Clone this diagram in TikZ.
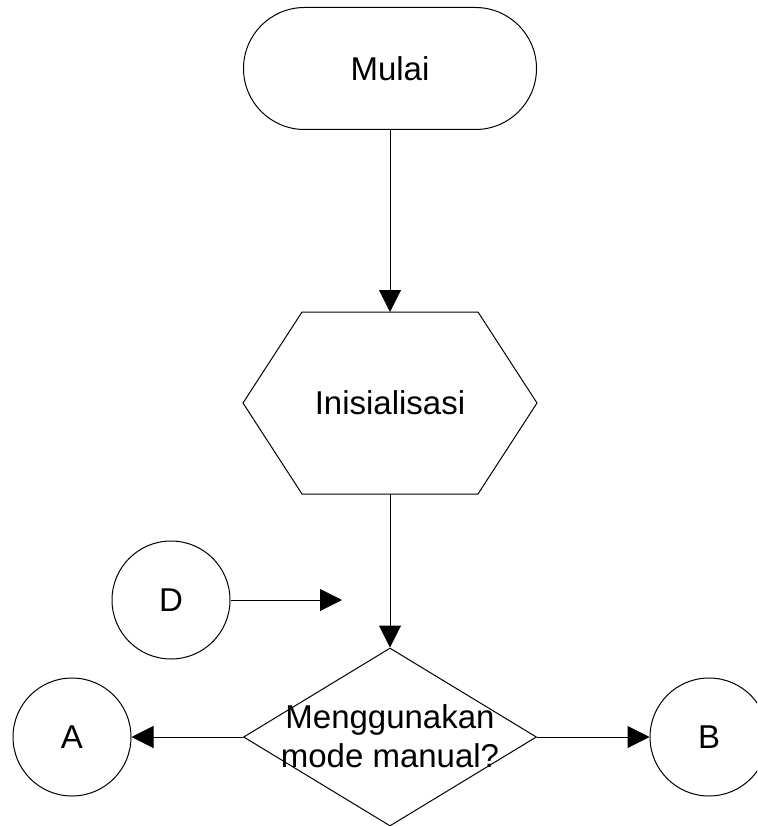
\documentclass[tikz,border=0pt]{standalone}
\usepackage{fontspec}
\setmainfont{Liberation Sans}
\usetikzlibrary{shapes.geometric,arrows.meta}
\begin{document}
\begin{tikzpicture}[x=1pt,y=-1pt,
  every node/.style={font=\fontsize{33}{39.5}\selectfont, inner sep=0pt},
  line/.style={draw, line width=1pt},
  arr/.style={line, -{Triangle[length=22pt,width=22pt]}},
  conn/.style={circle, draw, line width=1pt, minimum size=118pt}]
\useasboundingbox (0,0) rectangle (757,826);
\clip (0,0) rectangle (757,826);
% Terminal
\node[draw, line width=1pt, rounded corners=61pt, minimum width=293pt, minimum height=122pt] (mulai) at (390,68.5) {Mulai};
% Hexagon
\node (init) at (390,403) {Inisialisasi};
\coordinate (inittop) at (390,312);
\coordinate (initbot) at (390,494);
\draw[line] (243,403) -- (302,312) -- (478,312) -- (537,403) -- (478,494) -- (302,494) -- cycle;
% Decision
\node[diamond, draw, line width=1pt, aspect=1.646, minimum width=293pt, minimum height=178pt] (dec) at (390,737) {};
\node[align=center] (dectext) at (390,736) {Menggunakan\\mode manual?};
% Connectors
\node[conn] (D) at (171,600) {D};
\coordinate (dend) at (342,600);
\node[conn] (A) at (72,737) {A};
\node[conn] (B) at (709,737) {B};
% Edges
\draw[arr] (mulai.south) -- (inittop);
\draw[arr] (initbot) -- (dec.north);
\draw[arr] (D.east) -- (dend);
\draw[arr] (dec.west) -- (A.east);
\draw[arr] (dec.east) -- (B.west);
\end{tikzpicture}
\end{document}
